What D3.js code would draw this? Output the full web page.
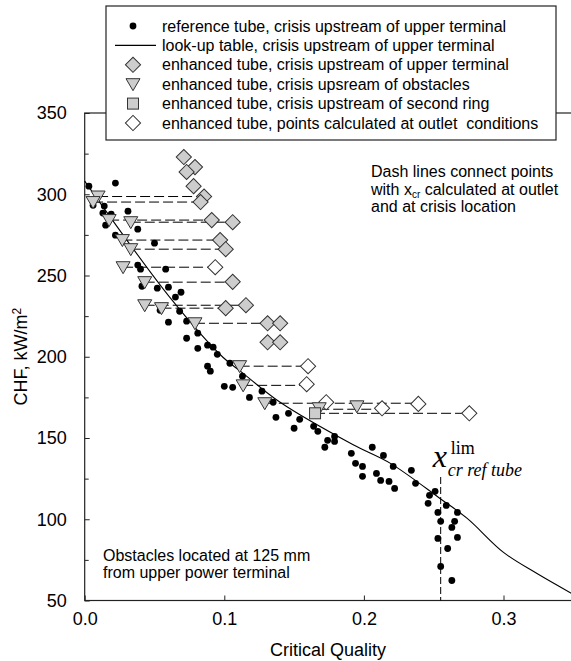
<!DOCTYPE html>
<html>
<head>
<meta charset="utf-8">
<script src="https://cdn.jsdelivr.net/npm/d3@7"></script>
<style>
  body { margin: 0; background: #fff; }
  svg { display: block; }
  text { font-family: "Liberation Sans", Arial, Helvetica, sans-serif; fill: #000; white-space: pre; }
</style>
</head>
<body>
<svg id="chart" width="571" height="661"></svg>
<script>
// ---- axis ticks ----
const xTicks = [0, 0.1, 0.2, 0.3];
const xTickLabels = ["0.0", "0.1", "0.2", "0.3"];
const yTicks = [50, 100, 150, 200, 250, 300, 350];
const yMinorTicks = [75, 125, 175, 225, 275, 325];

// ---- reference tube, crisis upstream of upper terminal ----
const refX = [0.003, 0.022, 0.006, 0.014, 0.013, 0.019, 0.031, 0.038, 0.015, 0.022,
  0.050, 0.038, 0.040, 0.058, 0.041, 0.052, 0.060, 0.069, 0.065, 0.054,
  0.068, 0.060, 0.073, 0.081, 0.073, 0.081, 0.088, 0.092, 0.095, 0.104,
  0.088, 0.090, 0.113, 0.100, 0.106, 0.118, 0.127, 0.135, 0.137, 0.146,
  0.154, 0.150, 0.164, 0.167, 0.174, 0.179, 0.179, 0.172, 0.206, 0.191,
  0.214, 0.194, 0.199, 0.199, 0.209, 0.212, 0.221, 0.218, 0.222, 0.234,
  0.237, 0.247, 0.251, 0.246, 0.259, 0.253, 0.267, 0.255, 0.265, 0.263,
  0.253, 0.267, 0.260, 0.255, 0.263];
const refCHF = [305.0, 306.9, 293.3, 292.7, 288.4, 287.8, 289.6, 278.5, 281.0, 274.8,
  269.9, 256.4, 253.9, 253.9, 243.4, 242.2, 242.8, 239.7, 236.7, 228.6,
  228.0, 221.3, 221.9, 214.5, 211.4, 205.2, 207.1, 205.9, 201.5, 196.0,
  194.2, 191.1, 188.0, 181.8, 181.2, 175.0, 178.8, 172.0, 162.7, 165.2,
  161.5, 156.0, 157.2, 154.1, 148.6, 151.0, 147.9, 144.3, 144.3, 140.6,
  139.3, 134.4, 132.5, 126.4, 128.2, 123.9, 132.5, 123.3, 119.0, 130.1,
  122.1, 114.7, 117.2, 109.8, 108.5, 104.2, 104.2, 98.7, 98.7, 95.0,
  88.2, 88.8, 82.0, 71.0, 62.3];

// ---- look-up table, crisis upstream of upper terminal ----
const lutX = [0.000, 0.0626, 0.099, 0.1135, 0.140, 0.192, 0.219, 0.2545, 0.274, 0.300, 0.324, 0.350];
const lutCHF = [308.1, 234.8, 199.7, 189.8, 172.0, 146.0, 134.4, 112.8, 100.5, 79.6, 66.6, 53.8];

// ---- enhanced tube, crisis upstream of upper terminal ----
const upperX = [0.071, 0.079, 0.073, 0.078, 0.0855, 0.083, 0.091, 0.106, 0.097, 0.101,
  0.106, 0.101, 0.1155, 0.131, 0.140, 0.131, 0.140];
const upperCHF = [322.9, 316.7, 313.7, 305.0, 298.6, 295.2, 284.1, 282.8, 271.8, 266.2,
  246.1, 229.9, 231.7, 220.6, 220.6, 208.9, 208.9];

// ---- enhanced tube, crisis upstream of obstacles ----
const obstX = [0.0096, 0.006, 0.0175, 0.033, 0.027, 0.033, 0.0275, 0.043, 0.043, 0.055,
  0.079, 0.111, 0.1135, 0.129, 0.168, 0.195];
const obstCHF = [298.6, 295.2, 284.1, 282.8, 271.8, 266.2, 255.1, 245.9, 231.7, 229.9,
  220.6, 194.2, 182.4, 171.4, 168.3, 169.5];

// ---- enhanced tube, crisis upstream of second ring ----
const ringX = [0.165];
const ringCHF = [165.2];

// ---- enhanced tube, points calculated at outlet conditions ----
const outletX = [0.0935, 0.160, 0.159, 0.173, 0.213, 0.239, 0.2755];
const outletCHF = [255.1, 194.2, 183.1, 172.0, 168.3, 171.0, 165.2];

// ---- dash lines: x_cr at crisis location -> x_cr at outlet ----
const linkFromX = [0.0096, 0.006, 0.0175, 0.033, 0.027, 0.033, 0.0275, 0.043, 0.043, 0.055,
  0.079, 0.111, 0.1135, 0.129, 0.168, 0.165];
const linkToX = [0.0855, 0.083, 0.091, 0.106, 0.097, 0.101, 0.0935, 0.106, 0.1155, 0.101,
  0.131, 0.160, 0.159, 0.239, 0.213, 0.2755];
const linkCHF = [298.6, 295.2, 284.1, 282.8, 271.8, 266.2, 255.1, 245.9, 231.7, 229.9,
  220.6, 194.2, 182.4, 171.4, 167.7, 165.2];

// limiting critical quality of the reference tube
const xLim = 0.255;
const xLimTopCHF = 126;

const legendItems = [
  "reference tube, crisis upstream of upper terminal",
  "look-up table, crisis upstream of upper terminal",
  "enhanced tube, crisis upstream of upper terminal",
  "enhanced tube, crisis upsream of obstacles",
  "enhanced tube, crisis upstream of second ring",
  "enhanced tube, points calculated at outlet  conditions"
];

// ---------------------------------------------------------------
const svg = d3.select("#chart");
const x = d3.scaleLinear().domain([0, 0.35]).range([84.7, 573.3]);
const y = d3.scaleLinear().domain([50, 350]).range([600.5, 113]);
const GREY = "#cdcdcd", EDGE = "#333";

const zip = (xs, ys) => xs.map((v, i) => [v, ys[i]]);

// frame
svg.append("rect")
  .attr("x", x(0)).attr("y", y(350))
  .attr("width", x(0.35) - x(0)).attr("height", y(50) - y(350))
  .attr("fill", "none").attr("stroke", "#222").attr("stroke-width", 1.2);

// axes with inward ticks
const axisX = d3.axisBottom(x).tickValues(xTicks)
  .tickFormat((d, i) => xTickLabels[i]).tickSize(-5).tickPadding(12);
const axisY = d3.axisLeft(y).tickValues(yTicks).tickSize(-5).tickPadding(18);
const axisYMinor = d3.axisLeft(y).tickValues(yMinorTicks).tickSize(-4).tickFormat("");

function styleAxis(g) {
  g.select(".domain").remove();
  g.selectAll("line").attr("stroke", "#222");
  g.selectAll("text").style("font-size", "18px")
    .style("font-family", '"Liberation Sans", Arial, sans-serif').attr("fill", "#000");
}
svg.append("g").attr("transform", `translate(0,${y(50)})`).call(axisX).call(styleAxis);
svg.append("g").attr("transform", `translate(${x(0)},0)`).call(axisY).call(styleAxis);
svg.append("g").attr("transform", `translate(${x(0)},0)`).call(axisYMinor).call(styleAxis);

// axis titles
svg.append("text").attr("x", 328).attr("y", 656).attr("text-anchor", "middle")
  .style("font-size", "18px").text("Critical Quality");
const yt = svg.append("text")
  .attr("transform", `translate(27,${(y(50) + y(350)) / 2}) rotate(-90)`)
  .attr("text-anchor", "middle").style("font-size", "18px");
yt.append("tspan").text("CHF, kW/m");
yt.append("tspan").attr("dy", "-0.5em").style("font-size", "12px").text("2");

// dash lines between crisis location and outlet points
svg.append("g").selectAll("line").data(linkCHF).join("line")
  .attr("x1", (d, i) => x(linkFromX[i])).attr("x2", (d, i) => x(linkToX[i]))
  .attr("y1", d => y(d)).attr("y2", d => y(d))
  .attr("stroke", "#000").attr("stroke-width", 1).attr("stroke-dasharray", "10,4");

// limiting quality marker
svg.append("line")
  .attr("x1", x(xLim)).attr("x2", x(xLim))
  .attr("y1", y(xLimTopCHF)).attr("y2", y(50))
  .attr("stroke", "#000").attr("stroke-width", 1).attr("stroke-dasharray", "7,3");

// look-up table curve
svg.append("path")
  .datum(zip(lutX, lutCHF))
  .attr("d", d3.line().x(d => x(d[0])).y(d => y(d[1])).curve(d3.curveCatmullRom))
  .attr("fill", "none").attr("stroke", "#000").attr("stroke-width", 1.1);

// symbol generators
const diamond = d3.symbol().type(d3.symbolSquare).size(115);
const triangle = () => {
  const w = 7, h = 12;
  return `M${-w},${-h / 2 + 0.5}L${w},${-h / 2 + 0.5}L0,${h / 2 + 0.5}Z`;
};

// reference tube points
svg.append("g").selectAll("circle").data(zip(refX, refCHF)).join("circle")
  .attr("cx", d => x(d[0])).attr("cy", d => y(d[1])).attr("r", 3.4).attr("fill", "#000");

// enhanced tube, upper terminal (grey diamonds)
svg.append("g").selectAll("path").data(zip(upperX, upperCHF)).join("path")
  .attr("d", diamond)
  .attr("transform", d => `translate(${x(d[0])},${y(d[1])}) rotate(45)`)
  .attr("fill", GREY).attr("stroke", EDGE).attr("stroke-width", 1);

// outlet conditions (white diamonds)
svg.append("g").selectAll("path").data(zip(outletX, outletCHF)).join("path")
  .attr("d", diamond)
  .attr("transform", d => `translate(${x(d[0])},${y(d[1])}) rotate(45)`)
  .attr("fill", "#fff").attr("stroke", EDGE).attr("stroke-width", 1);

// obstacles (grey down triangles)
svg.append("g").selectAll("path").data(zip(obstX, obstCHF)).join("path")
  .attr("d", triangle)
  .attr("transform", d => `translate(${x(d[0])},${y(d[1])})`)
  .attr("fill", GREY).attr("stroke", EDGE).attr("stroke-width", 1);

// second ring (grey square)
svg.append("g").selectAll("rect").data(zip(ringX, ringCHF)).join("rect")
  .attr("x", d => x(d[0]) - 5.5).attr("y", d => y(d[1]) - 5.5)
  .attr("width", 11).attr("height", 11)
  .attr("fill", GREY).attr("stroke", EDGE).attr("stroke-width", 1);

// notes
const nx = 371;
const note1 = svg.append("text").attr("x", nx).attr("y", 177).style("font-size", "16px");
note1.append("tspan").attr("x", nx).text("Dash lines connect points");
const l2 = note1.append("tspan").attr("x", nx).attr("dy", 17.5).text("with x");
l2.append("tspan").attr("dy", 3).style("font-size", "10px").text("cr");
note1.append("tspan").attr("dy", -3).text(" calculated at outlet");
note1.append("tspan").attr("x", nx).attr("dy", 17.5).text("and at crisis location");

const note2 = svg.append("text").attr("x", 103).attr("y", 561).style("font-size", "16px");
note2.append("tspan").attr("x", 103).text("Obstacles located at 125 mm");
note2.append("tspan").attr("x", 103).attr("dy", 16.5).text("from upper power terminal");

// x_cr ref tube limit label
const serif = '"Liberation Serif", "DejaVu Serif", "Times New Roman", serif';
svg.append("text").attr("x", x(xLim) - 8).attr("y", 467)
  .style("font-family", serif).style("font-style", "italic").style("font-size", "32px").text("x");
svg.append("text").attr("x", x(xLim) + 10).attr("y", 454)
  .style("font-family", serif).style("font-size", "18px").text("lim");
svg.append("text").attr("x", x(xLim) + 7).attr("y", 476)
  .style("font-family", serif).style("font-style", "italic").style("font-size", "18px").text("cr ref tube");

// legend
const lg = svg.append("g");
lg.append("rect").attr("x", 106).attr("y", 6).attr("width", 450).attr("height", 134)
  .attr("fill", "#fff").attr("stroke", "#222").attr("stroke-width", 1.2);
const rowY = i => 26 + i * 19.4;
const sx = 133;
legendItems.forEach((t, i) => {
  lg.append("text").attr("x", 162).attr("y", rowY(i)).attr("dy", "0.35em")
    .style("font-size", "16px").text(t);
});
lg.append("circle").attr("cx", sx).attr("cy", rowY(0)).attr("r", 3.4).attr("fill", "#000");
lg.append("line").attr("x1", 115).attr("x2", 156).attr("y1", rowY(1)).attr("y2", rowY(1))
  .attr("stroke", "#000").attr("stroke-width", 1.1);
lg.append("path").attr("d", diamond).attr("transform", `translate(${sx},${rowY(2)}) rotate(45)`)
  .attr("fill", GREY).attr("stroke", EDGE);
lg.append("path").attr("d", triangle).attr("transform", `translate(${sx},${rowY(3)})`)
  .attr("fill", GREY).attr("stroke", EDGE);
lg.append("rect").attr("x", sx - 5.5).attr("y", rowY(4) - 5.5).attr("width", 11).attr("height", 11)
  .attr("fill", GREY).attr("stroke", EDGE);
lg.append("path").attr("d", diamond).attr("transform", `translate(${sx},${rowY(5)}) rotate(45)`)
  .attr("fill", "#fff").attr("stroke", EDGE);
</script>
</body>
</html>
